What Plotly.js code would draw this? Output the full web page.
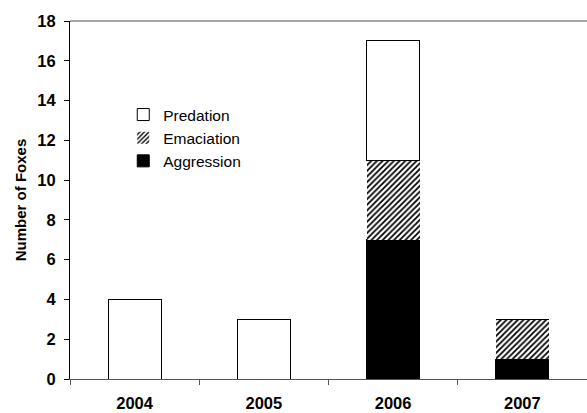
<!DOCTYPE html>
<html>
<head>
<meta charset="utf-8">
<script src="https://cdn.plot.ly/plotly-3.0.1.min.js"></script>
<style>html,body{margin:0;padding:0;background:#fff;}#chart{width:587px;height:413px;}</style>
</head>
<body>
<div id="chart"></div>
<script>
const years = ["2004", "2005", "2006", "2007"];
const aggression = [0, 0, 7, 1];
const emaciation = [0, 0, 4, 2];
const predation = [4, 3, 6, 0];
const yTicks = [0, 2, 4, 6, 8, 10, 12, 14, 16, 18];

const font = {family: "Liberation Sans, Arial, sans-serif", color: "#000"};
const barW = 0.41;

const traces = [
  {type: "bar", name: "Aggression", x: years, y: aggression, width: barW,
   marker: {color: "#000", line: {color: "#000", width: 1}}},
  {type: "bar", name: "Emaciation", x: years, y: emaciation, width: barW,
   marker: {color: "#fff", line: {color: "#000", width: 0},
            pattern: {shape: "/", fgcolor: "#000", bgcolor: "#fff", size: 4, solidity: 0.45}}},
  {type: "bar", name: "Predation", x: years, y: predation, width: barW,
   marker: {color: "#fff", line: {color: "#000", width: 1}}}
];

const layout = {
  width: 587, height: 413,
  margin: {l: 70, r: 0, t: 21, b: 34, pad: 0},
  paper_bgcolor: "#fff", plot_bgcolor: "#fff",
  barmode: "stack",
  showlegend: true,
  legend: {x: 0.103, y: 0.785, xanchor: "left", yanchor: "top", traceorder: "reversed",
           font: {family: font.family, size: 15.5, color: "#000"}, bgcolor: "rgba(0,0,0,0)",
           itemwidth: 30, tracegroupgap: 0},
  xaxis: {type: "category", tickson: "boundaries", ticks: "outside", ticklen: 5, tickcolor: "#555",
          showline: true, linecolor: "#555", linewidth: 1, showgrid: false, zeroline: false,
          ticklabelstandoff: 9,
          tickfont: {family: font.family, size: 16.5, color: "#000", weight: "bold"},
          range: [-0.5, 3.5]},
  yaxis: {range: [0, 18], tickvals: yTicks, ticks: "outside", ticklen: 5, tickcolor: "#000",
          showline: true, linecolor: "#000", linewidth: 1, showgrid: false, zeroline: false,
          ticklabelstandoff: 5,
          tickfont: {family: font.family, size: 16.5, color: "#000", weight: "bold"},
          title: {text: "Number of Foxes", standoff: 7,
                  font: {family: font.family, size: 15, color: "#000", weight: "bold"}}},
  shapes: [{type: "line", xref: "paper", yref: "paper", x0: 0, x1: 1, y0: 1, y1: 1,
            line: {color: "#888", width: 1.5}}]
};

Plotly.newPlot("chart", traces, layout, {displayModeBar: false, staticPlot: true});
</script>
</body>
</html>
